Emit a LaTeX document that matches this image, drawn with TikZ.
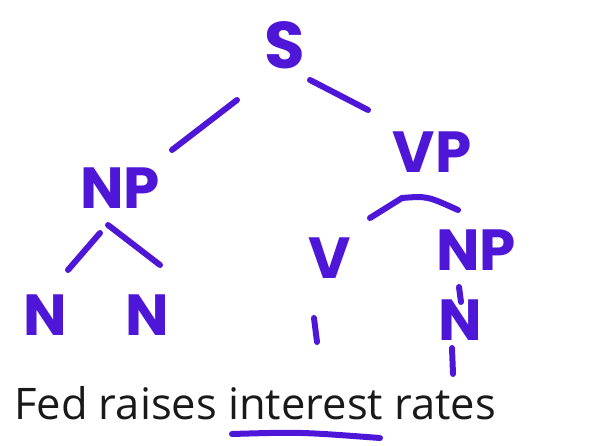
\documentclass[tikz,border=0pt]{standalone}
\usepackage{fontspec}
\setmainfont{Open Sans}
\newfontfamily\handfont{Poppins}
\definecolor{ink}{RGB}{78,22,215}
\definecolor{txt}{RGB}{25,25,25}
\begin{document}
\begin{tikzpicture}[x=1pt,y=-1pt,
  lab/.style={text=ink,inner sep=0pt,font=\handfont\bfseries\fontsize{58}{58}\selectfont},
  edge/.style={draw=ink,line width=6pt,line cap=round}]
\useasboundingbox (0,0) rectangle (598,446);
\node[lab,font=\handfont\bfseries\fontsize{66}{66}\selectfont] (S) at (285,45) {S};
\node[lab] (NP1) at (120,188) {NP};
\node[lab] (VP) at (432,152) {VP};
\node[lab] (N1) at (45,315) {N};
\node[lab] (N2) at (147,315) {N};
\node[lab] (V) at (330,258) {V};
\node[lab] (NP2) at (476,250) {NP};
\node[lab] (N3) at (460,320) {N};
\node[inner sep=0pt,anchor=base west,text=txt,font=\fontsize{43.5}{44}\selectfont] (sent) at (14,420) {Fed raises interest rates};
\coordinate (u1) at (232,434);
\coordinate (u2) at (380,438);
% connectors
\path[edge] ([shift={(-48,55)}]S.center) -- ([shift={(52,-38)}]NP1.center);
\path[edge] ([shift={(25,35)}]S.center) -- ([shift={(-64,-42)}]VP.center);
\path[edge] ([shift={(-20,45)}]NP1.center) -- ([shift={(-52,82)}]NP1.center);
\path[edge] ([shift={(-12,37)}]NP1.center) -- ([shift={(40,77)}]NP1.center);
\path[edge] ([shift={(-30,46)}]VP.center) -- ([shift={(-62,66)}]VP.center);
\path[edge] ([shift={(-30,46)}]VP.center) .. controls ([shift={(-5,44)}]VP.center) .. ([shift={(26,58)}]VP.center);
\path[edge] ([shift={(-1,-33)}]N3.center) -- ([shift={(1,-18)}]N3.center);
\path[edge] ([shift={(-16,60)}]V.center) -- ([shift={(-13,84)}]V.center);
\path[edge] ([shift={(-8,28)}]N3.center) -- ([shift={(-7,54)}]N3.center);
\path[edge] (u1) .. controls (300,432) .. (u2);
\end{tikzpicture}
\end{document}
